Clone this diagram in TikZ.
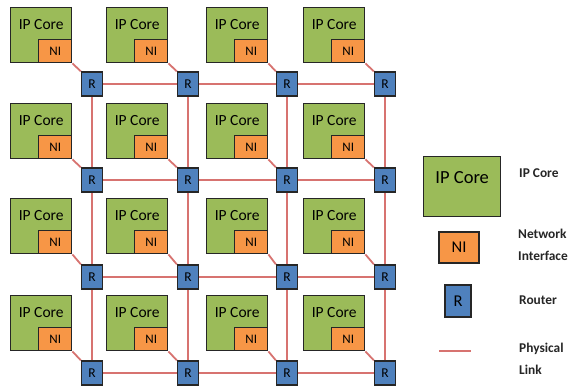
\documentclass[tikz,border=0pt]{standalone}
\usepackage{fontspec}
\setmainfont{Carlito}
\usetikzlibrary{backgrounds}
\definecolor{coreg}{HTML}{9BBB59}
\definecolor{nio}{HTML}{F79646}
\definecolor{rblue}{HTML}{4F81BD}
\definecolor{linkr}{HTML}{D77370}
\definecolor{edgec}{HTML}{262626}
\begin{document}
\begin{tikzpicture}[x=1pt,y=-1pt,
  core/.style={draw=edgec, line width=1.4pt, fill=coreg, minimum width=61pt, minimum height=55pt, anchor=north west, inner sep=0pt},
  coretxt/.style={font=\fontsize{15.5}{15.5}\selectfont, anchor=center, yshift=-17.5pt, inner sep=0pt},
  ni/.style={draw=edgec, line width=1.4pt, fill=nio, minimum width=33pt, minimum height=23pt, inner sep=0pt, font=\fontsize{13}{13}\selectfont},
  router/.style={draw=edgec, line width=1.4pt, fill=rblue, minimum width=21pt, minimum height=24pt, inner sep=0pt, font=\fontsize{13.5}{13.5}\selectfont},
  link/.style={draw=linkr, line width=1.8pt},
  legtxt/.style={font=\bfseries\fontsize{13.4}{22}\selectfont, anchor=west, align=left, inner sep=0pt, text=black!85}]
\useasboundingbox (0,0) rectangle (569,387);

\foreach \cx/\rx [count=\j] in {10/92,106/188,206/287,303/385}{
  \foreach \cy/\ry [count=\i] in {7/84,103/180,198/277,295/373}{
    \node[core, label={[coretxt]north:IP Core}] (c\i\j) at (\cx,\cy) {};
    \node[ni, anchor=south east] (n\i\j) at (c\i\j.south east) {NI};
    \node[router] (r\i\j) at (\rx,\ry) {R};
  }
}

\begin{pgfonlayer}{background}
  \foreach \i in {1,...,4}{
    \foreach \j in {1,...,4}{
      \draw[link] (n\i\j.south east) -- (r\i\j.north west);
    }
    \foreach \j in {1,2,3}{
      \pgfmathtruncatemacro{\k}{\j+1}
      \draw[link] (r\i\j) -- (r\i\k);
      \draw[link] (r\j\i) -- (r\k\i);
    }
  }
\end{pgfonlayer}

% legend
\node[core, minimum width=77pt, minimum height=60pt, label={[font=\fontsize{18.5}{18.5}\selectfont, anchor=center, yshift=-22pt, inner sep=0pt]north:IP Core}] (lc) at (423,156) {};
\node[ni, minimum width=40pt, minimum height=31pt, font=\fontsize{16.5}{16.5}\selectfont] (lni) at (459,247.5) {NI};
\node[router, minimum width=26pt, minimum height=32pt, font=\fontsize{16.5}{16.5}\selectfont] (lr) at (458,301) {R};
\coordinate (la) at (439,351);
\coordinate (lb) at (471,351);
\draw[link] (la) -- (lb);

\node[legtxt] (t1) at (519,173) {IP Core};
\node[legtxt] (t2) at (518,245) {Network\\Interface};
\node[legtxt] (t3) at (519,300) {Router};
\node[legtxt] (t4) at (519,358.5) {Physical\\Link};
\end{tikzpicture}
\end{document}
